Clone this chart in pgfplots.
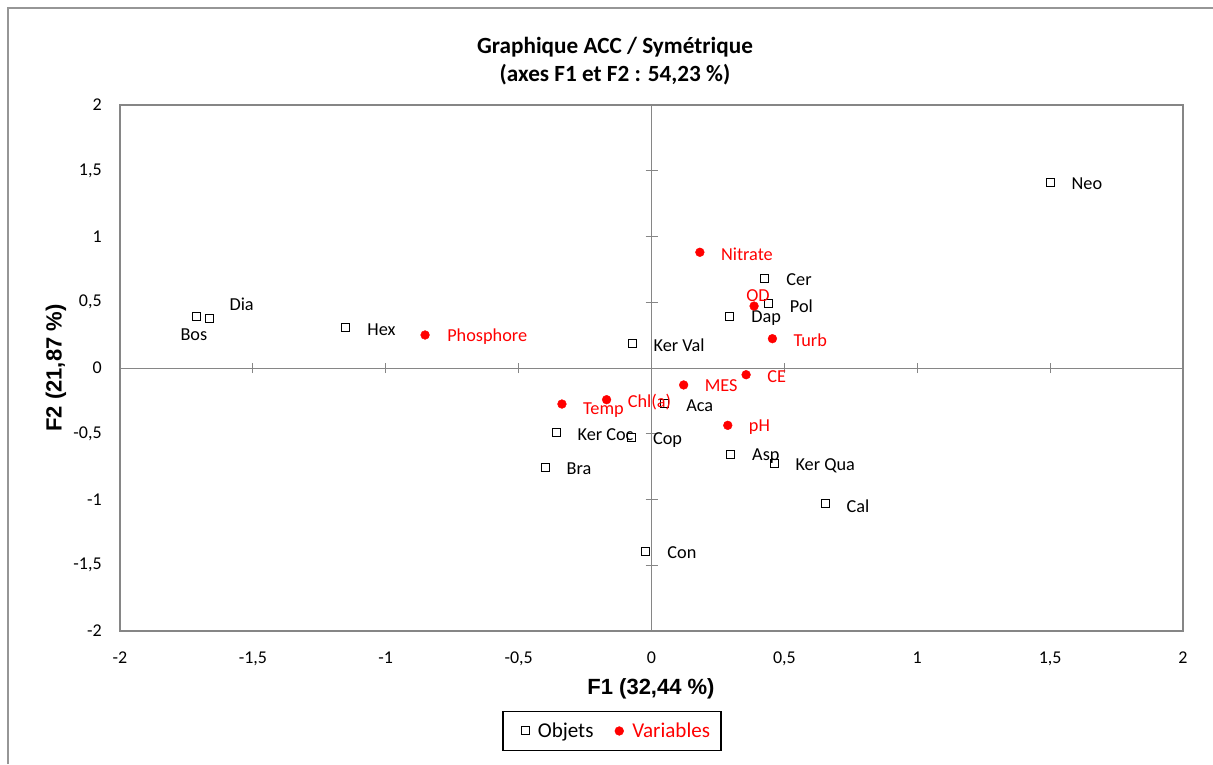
\documentclass[border=0pt]{standalone}
\usepackage{pgfplots}
\pgfplotsset{compat=1.18}
\usepackage{pgfplotstable}
\usepackage{fontspec}
\setmainfont{Carlito}
\newfontfamily\arialfont{Liberation Sans}
\definecolor{axgray}{RGB}{134,134,134}
\definecolor{framegray}{RGB}{150,150,150}
\definecolor{xlred}{RGB}{255,0,0}
\pgfplotsset{padlegend/.style={legend image code/.code={\path[draw=none,fill=none] (-10.5pt,-0.1pt) rectangle (0pt,0.1pt); \draw[##1] plot coordinates {(0pt,0pt)};}}}

\pgfplotstableread[col sep=comma]{
x,y,dx,dy,label
1.50,1.41,15.75,-1.1,Neo
0.427,0.684,15.75,-1.1,Cer
0.44,0.494,15.75,-2.5,Pol
0.295,0.395,15.75,-1.5,Dap
-0.073,0.19,15.75,-1.5,Ker Val
-1.665,0.38,15,10.5,Dia
-1.714,0.388,-12,-13.5,Bos
-1.15,0.31,15.75,-1.5,Hex
0.05,-0.27,15.75,-1.3,Aca
-0.359,-0.49,15.75,-1.7,Ker Coc
-0.075,-0.53,15.75,-1.7,Cop
-0.40,-0.755,15.75,-1.3,Bra
0.298,-0.66,15.75,-1.3,Asp
0.461,-0.73,15.75,-1.5,Ker Qua
0.653,-1.034,15.75,-1.5,Cal
-0.021,-1.394,15.75,-1.1,Con
}\objets

\pgfplotstableread[col sep=comma]{
x,y,dx,dy,label
-0.852,0.251,16.5,-1.3,Phosphore
0.182,0.88,15.75,-1.3,Nitrate
0.386,0.471,-6,7.5,OD
0.455,0.223,15.75,-1.0,Turb
0.356,-0.051,15.75,-1.5,CE
0.121,-0.129,15.75,-0.8,MES
-0.169,-0.241,15.75,-1.5,Chl(a)
-0.337,-0.274,15.75,-4.5,Temp
0.287,-0.436,15.75,-1.0,pH
}\variables

\begin{document}
\begin{tikzpicture}
\useasboundingbox (-90pt,-99.75pt) rectangle (819.75pt,473.25pt);
\draw[framegray, line width=0.8pt] (-84pt,-99.75pt) -- (-84pt,467.25pt) -- (819.75pt,467.25pt);
\begin{axis}[
  scale only axis, width=797.25pt, height=394.5pt,
  at={(0pt,0pt)}, anchor=south west,
  xmin=-2, xmax=2, ymin=-2, ymax=2,
  axis line style={axgray, line width=1pt},
  xtick={-2,-1.5,-1,-0.5,0,0.5,1,1.5,2},
  ytick={-2,-1.5,-1,-0.5,0,0.5,1,1.5,2},
  major tick length=0pt,
  tick style={draw=none},
  /pgf/number format/assume math mode=true,
  /pgf/number format/use comma,
  ticklabel style={font=\fontsize{13.5}{16}\selectfont, inner sep=0pt},
  xticklabel style={anchor=north, yshift=-15.5pt},
  yticklabel style={anchor=east, xshift=-13.5pt},
  clip=false,
  legend columns=2,
  legend style={at={(0.4628,-0.1901)}, anchor=center, draw=black, line width=1.1pt,
    font=\fontsize{15.8}{19}\selectfont, inner xsep=6pt, inner ysep=6.5pt,
    /tikz/every odd column/.append style={column sep=4.5pt},
    /tikz/every even column/.append style={column sep=14pt}},
]
\draw[axgray, line width=0.75pt] (axis cs:-2,0) -- (axis cs:2,0);
\draw[axgray, line width=0.75pt] (axis cs:0,-2) -- (axis cs:0,2);
\pgfplotsinvokeforeach{-1.5,-1,-0.5,0.5,1,1.5}{
  \draw[axgray, line width=0.75pt] ([yshift=-3.75pt]axis cs:#1,0) -- ([yshift=3.75pt]axis cs:#1,0);
  \draw[axgray, line width=0.75pt] ([xshift=-4.5pt]axis cs:0,#1) -- ([xshift=4.5pt]axis cs:0,#1);
}
\addlegendimage{only marks, mark=square, mark size=3pt, mark options={draw=black, fill=white, line width=0.75pt}, padlegend}
\addlegendentry{Objets}
\addlegendimage{only marks, mark=*, mark size=3.3pt, mark options={draw=xlred, fill=xlred, line width=0.3pt}}
\addlegendentry{\textcolor{xlred}{Variables}}
\addplot[forget plot, only marks, mark=square, mark size=3pt,
  mark options={draw=black, fill=white, line width=0.75pt},
  nodes near coords, point meta=explicit symbolic,
  visualization depends on={\thisrow{dx}\as\dx},
  visualization depends on={\thisrow{dy}\as\dy},
  every node near coord/.append style={anchor=west, inner sep=0pt,
     xshift=\dx, yshift=\dy, font=\fontsize{13.7}{16}\selectfont, text=black}]
  table[x=x, y=y, meta=label]{\objets};
\addplot[forget plot, only marks, mark=*, mark size=3.3pt,
  mark options={draw=xlred, fill=xlred, line width=0.3pt},
  nodes near coords, point meta=explicit symbolic,
  visualization depends on={\thisrow{dx}\as\dx},
  visualization depends on={\thisrow{dy}\as\dy},
  every node near coord/.append style={anchor=west, inner sep=0pt,
     xshift=\dx, yshift=\dy, font=\fontsize{13.7}{16}\selectfont, text=xlred}]
  table[x=x, y=y, meta=label]{\variables};
\end{axis}
\node[anchor=base, font=\bfseries\fontsize{17.4}{21}\selectfont] at (371.25pt,432.75pt) {Graphique ACC / Symétrique};
\node[anchor=base, font=\bfseries\fontsize{17.4}{21}\selectfont] at (371.25pt,411.75pt) {(axes F1 et F2 : 54,23 \%)};
\node[anchor=base, font=\arialfont\bfseries\fontsize{16.5}{20}\selectfont] at (398.25pt,-47.5pt) {F1 (32,44 \%)};
\node[anchor=base, rotate=90, font=\arialfont\bfseries\fontsize{16.5}{20}\selectfont] at (-43.7pt,197.25pt) {F2 (21,87 \%)};
\end{tikzpicture}
\end{document}
